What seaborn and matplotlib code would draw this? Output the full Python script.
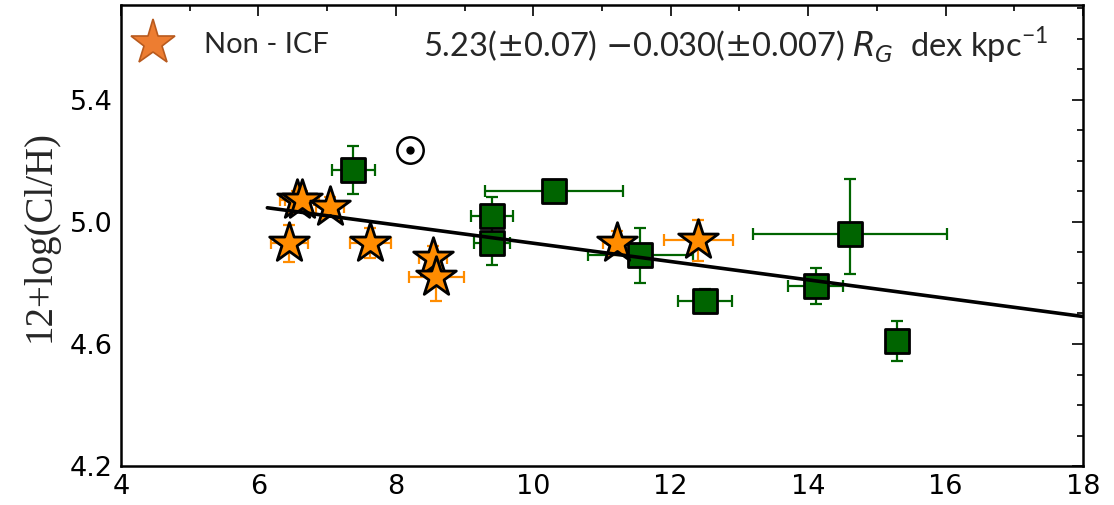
import matplotlib
matplotlib.use("Agg")
import matplotlib.pyplot as plt
from matplotlib.lines import Line2D
from matplotlib.ticker import MultipleLocator, FixedLocator, FormatStrFormatter
import seaborn as sns
import pandas as pd

# ICF-based abundances (green squares)
icf_rg = [7.38, 10.30, 9.40, 9.40, 11.56, 12.50, 14.61, 14.11, 15.30]
icf_ab = [5.17, 5.10, 5.02, 4.93, 4.89, 4.74, 4.96, 4.79, 4.61]
icf_rg_err = [0.31, 1.00, 0.30, 0.26, 0.76, 0.39, 1.41, 0.40, 0.00]
icf_ab_err_lo = [0.08, 0.00, 0.06, 0.07, 0.09, 0.04, 0.13, 0.06, 0.065]
icf_ab_err_hi = [0.08, 0.00, 0.06, 0.07, 0.09, 0.04, 0.18, 0.06, 0.065]

# Non-ICF abundances (orange stars)
non_rg = [6.45, 6.56, 6.63, 7.04, 7.63, 8.54, 8.59, 11.22, 12.40]
non_ab = [4.93, 5.07, 5.07, 5.05, 4.93, 4.88, 4.82, 4.93, 4.94]
non_rg_err = [0.27, 0.25, 0.25, 0.20, 0.30, 0.20, 0.40, 0.20, 0.50]
non_ab_err = [0.06, 0.03, 0.03, 0.03, 0.05, 0.04, 0.08, 0.04, 0.067]

# gradient fit and solar value
fit_intercept = 5.23
fit_slope = -0.030
fit_range = [6.13, 18.0]
sun_rg = [8.2]
sun_ab = [5.235]

y_ticks = [4.2, 4.6, 5.0, 5.4]

icf = pd.DataFrame({"rg": icf_rg, "ab": icf_ab})
non = pd.DataFrame({"rg": non_rg, "ab": non_ab})
fit = pd.DataFrame({"rg": fit_range,
                    "ab": [fit_intercept + fit_slope * r for r in fit_range]})

sns.set_style("white")
fig = plt.figure(figsize=(11.14, 5.05), dpi=100)
ax = fig.add_axes([0.1086, 0.077, 0.8636, 0.913])

green = "#006400"
orange = "#FF8C00"

ax.errorbar(icf_rg, icf_ab, xerr=icf_rg_err, yerr=[icf_ab_err_lo, icf_ab_err_hi],
            fmt="none", ecolor=green, elinewidth=1.6, capsize=4, capthick=1.6, zorder=2)
ax.errorbar(non_rg, non_ab, xerr=non_rg_err, yerr=non_ab_err,
            fmt="none", ecolor=orange, elinewidth=1.6, capsize=4, capthick=1.6, zorder=2)

sns.scatterplot(data=icf, x="rg", y="ab", marker="s", s=300, color=green,
                edgecolor="black", linewidth=2, ax=ax, zorder=3)
sns.scatterplot(data=non, x="rg", y="ab", marker="*", s=900, color=orange,
                edgecolor="black", linewidth=2, ax=ax, zorder=4)
sns.lineplot(data=fit, x="rg", y="ab", color="black", linewidth=2.6, ax=ax, zorder=5)

# solar symbol
ax.plot(sun_rg, sun_ab, marker="o", ms=19, mfc="none", mec="black", mew=1.8, ls="none")
ax.plot(sun_rg, sun_ab, marker="o", ms=5, color="black", ls="none")

ax.set_xlim(4, 18)
ax.set_ylim(4.2, 5.71)
ax.xaxis.set_major_locator(MultipleLocator(2))
ax.xaxis.set_minor_locator(MultipleLocator(1))
ax.yaxis.set_major_locator(FixedLocator(y_ticks))
ax.yaxis.set_minor_locator(MultipleLocator(0.1))
ax.yaxis.set_major_formatter(FormatStrFormatter("%.1f"))
ax.tick_params(which="both", direction="in", top=True, right=True, width=1.2,
               labelsize=19.5, colors="black")
ax.tick_params(which="major", length=8, pad=6)
ax.tick_params(which="minor", length=4)
for sp in ax.spines.values():
    sp.set_linewidth(1.8)
    sp.set_color("black")

ax.set_xlabel("")
ax.set_ylabel("12+log(Cl/H)", fontsize=28, family="Liberation Serif", labelpad=8)

handle = Line2D([], [], marker="*", ls="none", ms=34, mfc="#ED7D31", mec="#B85A1E", mew=1.2)
ax.legend([handle], ["Non - ICF"], loc="center left", bbox_to_anchor=(0.011, 0.913),
          frameon=False, prop={"family": "Lato", "size": 21}, handlelength=1.5,
          handletextpad=1.0, borderaxespad=0, borderpad=0)

ax.text(0.314, 0.913, r"5.23($\pm$0.07) $-$0.030($\pm$0.007) $R_G$  dex kpc$^{\mathregular{-1}}$",
        transform=ax.transAxes, fontsize=23.5, family="Lato", ha="left", va="center")

fig.savefig("out.png", dpi=100)
